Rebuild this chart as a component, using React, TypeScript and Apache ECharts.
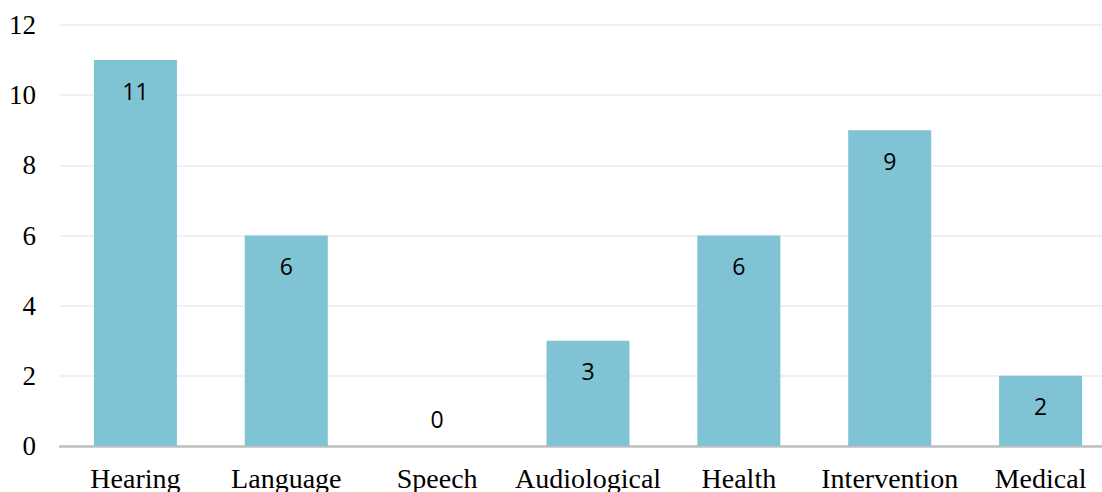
import React, { useEffect, useRef } from "react";
import * as echarts from "echarts";

const categories = ["Hearing", "Language", "Speech", "Audiological", "Health", "Intervention", "Medical"];
const counts = [11, 6, 0, 3, 6, 9, 2];
const yTicks = { min: 0, max: 12, interval: 2 };

const BAR_COLOR = "#80C3D4";
const SERIF = "Liberation Serif, Times New Roman, serif";

export default function App() {
  const ref = useRef<HTMLDivElement>(null);

  useEffect(() => {
    if (!ref.current) return;
    const chart = echarts.init(ref.current, undefined, { renderer: "svg" });

    // Zero-height bars get their label just above the baseline
    const barData = counts.map((v) =>
      v === 0
        ? { value: v, label: { position: "top" as const, distance: 16 } }
        : { value: v }
    );

    chart.setOption({
      animation: false,
      grid: { left: 60, right: 0, top: 25, bottom: 42, containLabel: false },
      xAxis: {
        type: "category",
        data: categories,
        axisTick: { show: false },
        axisLine: { show: true, lineStyle: { color: "#BFBFBF", width: 2.5 } },
        axisLabel: {
          color: "#000",
          fontFamily: SERIF,
          fontSize: 28,
          margin: 18,
          interval: 0,
        },
      },
      yAxis: {
        type: "value",
        min: yTicks.min,
        max: yTicks.max,
        interval: yTicks.interval,
        axisLine: { show: false },
        axisTick: { show: false },
        splitLine: { lineStyle: { color: "#EBEBEB", width: 1.5 } },
        axisLabel: {
          color: "#000",
          fontFamily: SERIF,
          fontSize: 27,
          margin: 24,
        },
      },
      series: [
        {
          type: "bar",
          data: barData,
          barWidth: 83,
          itemStyle: { color: BAR_COLOR },
          label: {
            show: true,
            position: "insideTop",
            distance: 19,
            color: "#000",
            fontFamily: "Open Sans, Noto Sans, sans-serif",
            fontSize: 23,
          },
        },
      ],
    });

    return () => chart.dispose();
  }, []);

  // The plot runs a little past the right edge of the visible frame
  return (
    <div style={{ position: "fixed", left: 0, top: 0, width: 1102, height: 492, overflow: "hidden", background: "#fff" }}>
      <div ref={ref} style={{ width: 1116, height: 492 }} />
    </div>
  );
}
